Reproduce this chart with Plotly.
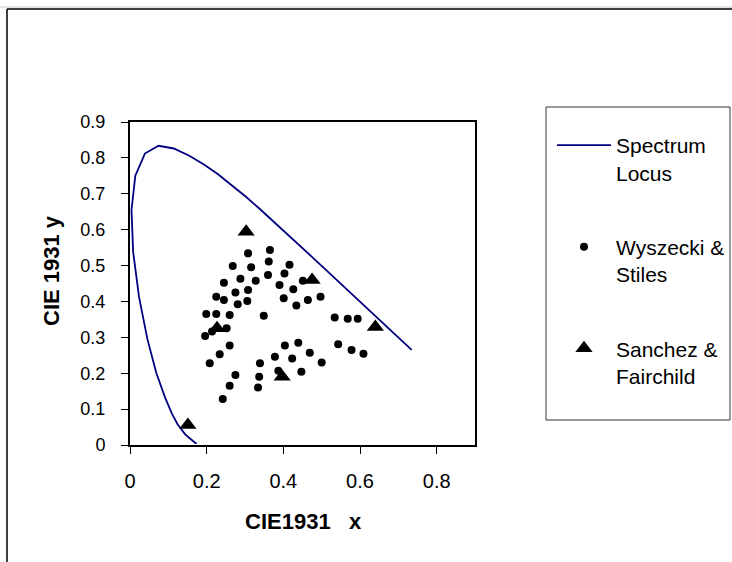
import plotly.graph_objects as go

# Spectrum locus (CIE 1931 chromaticity)
locus_x = [0.1741, 0.1738, 0.1733, 0.1726, 0.1714, 0.1689, 0.1644, 0.1566, 0.1440, 0.1241,
           0.1096, 0.0913, 0.0687, 0.0454, 0.0235, 0.0082, 0.0039, 0.0139, 0.0389, 0.0743,
           0.1142, 0.1547, 0.1929, 0.2296, 0.2658, 0.3016, 0.3373, 0.3731, 0.4087, 0.4441,
           0.4788, 0.5125, 0.5448, 0.5752, 0.6029, 0.6270, 0.6658, 0.6915, 0.7079, 0.7190,
           0.7260, 0.7300, 0.7334, 0.7347]
locus_y = [0.0050, 0.0049, 0.0048, 0.0048, 0.0051, 0.0069, 0.0109, 0.0177, 0.0297, 0.0578,
           0.0868, 0.1327, 0.2007, 0.2950, 0.4127, 0.5384, 0.6548, 0.7502, 0.8120, 0.8338,
           0.8262, 0.8059, 0.7816, 0.7543, 0.7243, 0.6923, 0.6589, 0.6245, 0.5896, 0.5547,
           0.5202, 0.4866, 0.4544, 0.4242, 0.3965, 0.3725, 0.3340, 0.3083, 0.2920, 0.2809,
           0.2740, 0.2700, 0.2666, 0.2653]

# Wyszecki & Stiles
ws_x = [0.308, 0.365, 0.362, 0.268, 0.316, 0.416, 0.403, 0.360, 0.288, 0.328,
        0.245, 0.390, 0.451, 0.426, 0.308, 0.275, 0.225, 0.245, 0.306, 0.281,
        0.401, 0.464, 0.497, 0.434, 0.199, 0.225, 0.260, 0.349, 0.534, 0.568,
        0.594, 0.252, 0.214, 0.196, 0.260, 0.234, 0.208, 0.404, 0.439, 0.543,
        0.578, 0.609, 0.469, 0.378, 0.423, 0.500, 0.339, 0.387, 0.447, 0.275,
        0.337, 0.260, 0.334, 0.242]
ws_y = [0.534, 0.543, 0.511, 0.499, 0.495, 0.502, 0.478, 0.474, 0.463, 0.458,
        0.452, 0.446, 0.458, 0.434, 0.432, 0.425, 0.413, 0.404, 0.401, 0.392,
        0.409, 0.404, 0.413, 0.389, 0.365, 0.365, 0.362, 0.360, 0.355, 0.352,
        0.352, 0.325, 0.316, 0.304, 0.277, 0.253, 0.228, 0.277, 0.285, 0.281,
        0.265, 0.254, 0.257, 0.246, 0.241, 0.230, 0.228, 0.207, 0.204, 0.195,
        0.190, 0.165, 0.160, 0.128]

# Sanchez & Fairchild
sf_x = [0.303, 0.475, 0.227, 0.397, 0.640, 0.151]
sf_y = [0.594, 0.460, 0.325, 0.190, 0.329, 0.056]

x_ticks = [0, 0.2, 0.4, 0.6, 0.8]
y_ticks = [0, 0.1, 0.2, 0.3, 0.4, 0.5, 0.6, 0.7, 0.8, 0.9]

W, H = 732, 562
L, R, T, B = 130, 257, 122, 117
PW, PH = W - L - R, H - T - B


def px(xp):
    return (xp - L) / PW


def py(yp):
    return (H - B - yp) / PH


FONT = "Liberation Sans, Arial, sans-serif"

fig = go.Figure()
fig.add_trace(go.Scatter(x=locus_x, y=locus_y, mode="lines", name="Spectrum<br>Locus",
                         line=dict(color="#000080", width=1.8), legendgroup="a"))
fig.add_trace(go.Scatter(x=ws_x, y=ws_y, mode="markers", name="Wyszecki &<br>Stiles",
                         marker=dict(symbol="circle", size=8, color="black"), legendgroup="b"))
fig.add_trace(go.Scatter(x=sf_x, y=sf_y, mode="markers", name="Sanchez &<br>Fairchild",
                         marker=dict(symbol="triangle-up", size=15, color="black"), legendgroup="c"))

axis_common = dict(showgrid=False, zeroline=False, showline=True, mirror=True,
                   linecolor="black", linewidth=2, ticks="outside", ticklen=7,
                   tickcolor="black", tickwidth=1)

fig.update_xaxes(range=[0, 0.9], tickvals=x_ticks, ticktext=[str(v) for v in x_ticks],
                 tickfont=dict(family=FONT, size=20, color="black"), ticklabelstandoff=10,
                 **axis_common)
fig.update_yaxes(range=[0, 0.9], tickvals=y_ticks, ticktext=[str(v) for v in y_ticks],
                 tickfont=dict(family=FONT, size=18, color="black"), ticklabelstandoff=12,
                 **axis_common)

shapes = [
    dict(type="line", xref="paper", yref="paper", x0=px(0), x1=px(W), y0=py(7), y1=py(7),
         line=dict(color="#c8c8c8", width=1)),
    dict(type="line", xref="paper", yref="paper", x0=px(7), x1=px(W), y0=py(9), y1=py(9),
         line=dict(color="black", width=1.5)),
    dict(type="line", xref="paper", yref="paper", x0=px(7), x1=px(7), y0=py(9), y1=py(H),
         line=dict(color="black", width=1.5)),
    dict(type="rect", xref="paper", yref="paper", x0=px(546), x1=px(730), y0=py(420), y1=py(107),
         line=dict(color="#333333", width=1)),
]

annotations = [
    dict(text="<b>CIE 1931 y</b>", xref="paper", yref="paper", x=px(51), y=py(271),
         showarrow=False, textangle=-90, font=dict(family=FONT, size=22, color="black"),
         xanchor="center", yanchor="middle"),
    dict(text="<b>CIE1931   x</b>", xref="paper", yref="paper", x=px(303), y=py(521),
         showarrow=False, font=dict(family=FONT, size=22, color="black"),
         xanchor="center", yanchor="middle"),
]

fig.update_layout(
    width=W, height=H, margin=dict(l=L, r=R, t=T, b=B, autoexpand=False),
    paper_bgcolor="white", plot_bgcolor="white",
    shapes=shapes, annotations=annotations,
    showlegend=True,
    legend=dict(x=px(552), y=py(125), xanchor="left", yanchor="top",
                font=dict(family=FONT, size=21, color="black"),
                bgcolor="rgba(0,0,0,0)", borderwidth=0, valign="top",
                traceorder="grouped", tracegroupgap=44, itemwidth=54),
)

fig.write_html("out.html", config={"displayModeBar": False},
               post_script="document.body.style.margin='0';document.body.style.overflow='hidden';")
